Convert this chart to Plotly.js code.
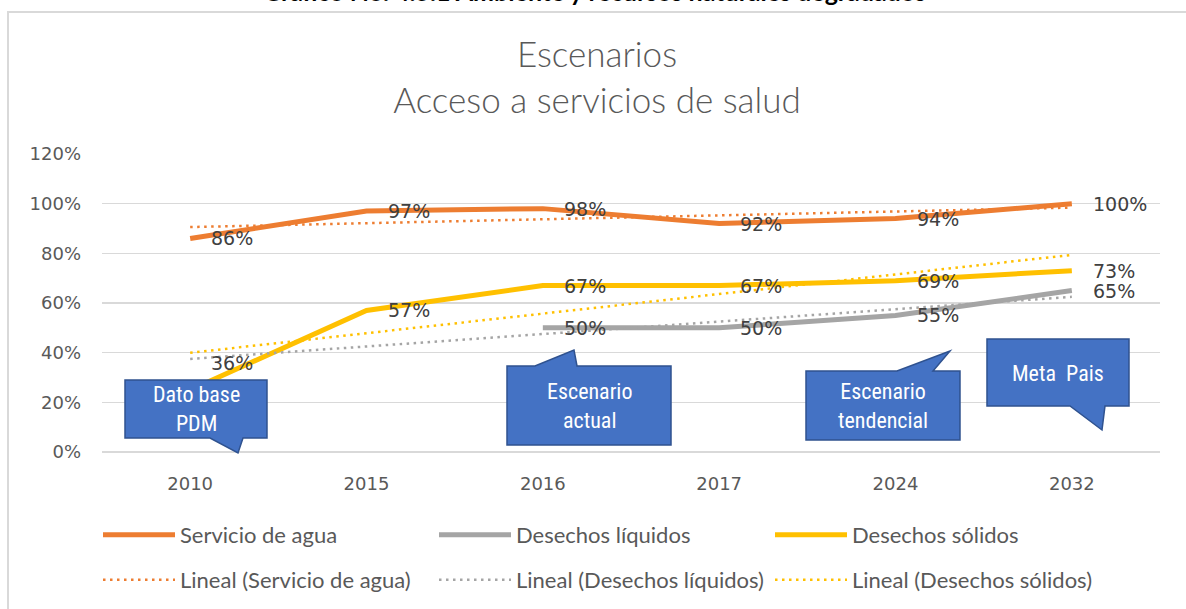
<!DOCTYPE html>
<html>
<head>
<meta charset="utf-8">
<script src="https://cdn.plot.ly/plotly-3.0.1.min.js"></script>
<style>html,body{margin:0;padding:0;background:#fff;}#chart{width:1186px;height:609px;}</style>
</head>
<body>
<div id="chart"></div>
<script>
// ---- data ----
const categories = ['2010', '2015', '2016', '2017', '2024', '2032'];
const servicioAgua = [0.86, 0.97, 0.98, 0.92, 0.94, 1.00];
const desechosLiquidos = [null, null, 0.50, 0.50, 0.55, 0.65];
const desechosSolidos = [0.25, 0.57, 0.67, 0.67, 0.69, 0.73];
// data label texts as printed on the chart
const labelsAgua = [0.86, 0.97, 0.98, 0.92, 0.94, 1.00];
const labelsLiquidos = [null, null, 0.50, 0.50, 0.55, 0.65];
const labelsSolidos = [0.36, 0.57, 0.67, 0.67, 0.69, 0.73];
const seriesNames = ['Servicio de agua', 'Desechos líquidos', 'Desechos sólidos'];
const callouts = ['Dato base<br>PDM', 'Escenario<br>actual', 'Escenario<br>tendencial', 'Meta\u00a0 Pais'];

// ---- layout helpers (pixel -> paper) ----
const L = 102, R = 1160, T = 154, B = 452;
const fx = x => (x - L) / (R - L);
const fy = y => (B - y) / (B - T);

// linear trend (least squares on category index, like a spreadsheet trendline)
function linearTrend(vals) {
  const pts = vals.map((v, i) => [i + 1, v]).filter(p => p[1] !== null);
  const n = pts.length;
  const mx = pts.reduce((s, p) => s + p[0], 0) / n;
  const my = pts.reduce((s, p) => s + p[1], 0) / n;
  let sxy = 0, sxx = 0;
  pts.forEach(p => { sxy += (p[0] - mx) * (p[1] - my); sxx += (p[0] - mx) * (p[0] - mx); });
  const b = sxy / sxx, a = my - b * mx;
  return vals.map((v, i) => a + b * (i + 1));
}

const colors = ['#ED7D31', '#A5A5A5', '#FFC000'];
const allSeries = [servicioAgua, desechosLiquidos, desechosSolidos];
const allLabels = [labelsAgua, labelsLiquidos, labelsSolidos];

const traces = [];
allSeries.forEach((s, k) => {
  traces.push({
    type: 'scatter', mode: 'lines', x: categories, y: s, name: seriesNames[k],
    line: {color: colors[k], width: 5}, connectgaps: false, legend: 'legend', hoverinfo: 'skip'
  });
});
allSeries.forEach((s, k) => {
  traces.push({
    type: 'scatter', mode: 'lines', x: categories, y: linearTrend(s), name: 'Lineal (' + seriesNames[k] + ')',
    line: {color: colors[k], width: 2.5, dash: '2.5px,4.5px'}, legend: 'legend2', hoverinfo: 'skip'
  });
});

const annotations = [];
allLabels.forEach((lab) => {
  lab.forEach((v, i) => {
    if (v === null) return;
    annotations.push({
      x: i, y: v, xref: 'x', yref: 'y', text: Math.round(v * 100) + '%',
      showarrow: false, xanchor: 'left', yanchor: 'middle', xshift: 19,
      font: {family: 'DejaVu Sans, sans-serif', size: 19, color: '#404040'}
    });
  });
});

// caption (cut off at top, as in the source)
annotations.push({
  xref: 'paper', yref: 'paper', x: fx(594), y: fy(8), xanchor: 'center', yanchor: 'bottom',
  text: '<b>Gráfico No. 4.5.1 Ambiente y recursos naturales degradados</b>', showarrow: false,
  font: {family: 'Lato, sans-serif', size: 25, color: '#000000'}
});

// callout boxes
function calloutPath(x0, y0, x1, y1, side, b1, b2, tx, ty) {
  let pts;
  if (side === 'bottom') {
    pts = [[x0, y0], [x1, y0], [x1, y1], [b2, y1], [tx, ty], [b1, y1], [x0, y1]];
  } else {
    pts = [[x0, y0], [b1, y0], [tx, ty], [b2, y0], [x1, y0], [x1, y1], [x0, y1]];
  }
  return 'M' + pts.map(p => fx(p[0]).toFixed(5) + ',' + fy(p[1]).toFixed(5)).join(' L') + ' Z';
}
const boxDefs = [
  [125, 380, 267, 438, 'bottom', 210, 243, 238, 453, 196, 409],
  [507, 366, 671, 445, 'top', 535, 577, 574, 350, 589, 406],
  [806, 371, 960, 440, 'top', 897, 933, 950, 351, 883, 406],
  [987, 339, 1129, 406, 'bottom', 1070, 1105, 1102, 430, 1058, 373]
];
const shapes = [];
shapes.push({type: 'rect', xref: 'paper', yref: 'paper', x0: fx(8), x1: fx(1195), y0: fy(12), y1: fy(640),
  line: {color: '#d9d9d9', width: 2}, fillcolor: 'rgba(0,0,0,0)', layer: 'below'});
boxDefs.forEach((d, k) => {
  shapes.push({type: 'path', xref: 'paper', yref: 'paper', path: calloutPath(d[0], d[1], d[2], d[3], d[4], d[5], d[6], d[7], d[8]),
    fillcolor: '#4472C4', line: {color: '#2F528F', width: 1.5}, layer: 'above'});
  annotations.push({xref: 'paper', yref: 'paper', x: fx(d[9]), y: fy(d[10]), xanchor: 'center', yanchor: 'middle',
    text: callouts[k], showarrow: false,
    font: {family: 'Liberation Sans Narrow, Arial Narrow, Roboto Condensed, sans-serif', size: 22, color: '#ffffff'}});
});

const legendCommon = {
  orientation: 'h', xanchor: 'left', yanchor: 'top',
  entrywidth: 249, entrywidthmode: 'pixels', itemwidth: 72,
  font: {family: 'Lato, sans-serif', size: 22, color: '#595959'}, bgcolor: 'rgba(0,0,0,0)'
};

const layout = {
  width: 1186, height: 609,
  margin: {l: L, r: 1186 - R, t: T, b: 609 - B, autoexpand: false},
  paper_bgcolor: '#ffffff', plot_bgcolor: '#ffffff',
  title: {
    text: 'Escenarios<br>Acceso a servicios de salud',
    font: {family: 'Lato, sans-serif', size: 35, color: '#595959', weight: 300},
    x: 597 / 1186, xanchor: 'center', xref: 'container', yref: 'container', y: 1 - 67 / 609, yanchor: 'middle'
  },
  xaxis: {
    type: 'category', categoryorder: 'array', categoryarray: categories, range: [-0.5, 5.5],
    showgrid: false, showline: false, zeroline: false, ticks: '', ticklabelstandoff: 19,
    tickfont: {family: 'DejaVu Sans, sans-serif', size: 18, color: '#595959'}
  },
  yaxis: {
    range: [0, 1.2], dtick: 0.2, tickformat: '.0%', showgrid: true, gridcolor: '#d9d9d9', gridwidth: 1.5,
    zeroline: true, zerolinecolor: '#d9d9d9', zerolinewidth: 1.5, showline: false, ticks: '', ticklabelstandoff: 20,
    tickfont: {family: 'DejaVu Sans, sans-serif', size: 18, color: '#595959'}
  },
  showlegend: true,
  legend: Object.assign({}, legendCommon, {x: fx(98), y: fy(514)}),
  legend2: Object.assign({}, legendCommon, {x: fx(98), y: fy(559)}),
  annotations: annotations,
  shapes: shapes
};

Plotly.newPlot('chart', traces, layout, {displayModeBar: false, staticPlot: true});
</script>
</body>
</html>
